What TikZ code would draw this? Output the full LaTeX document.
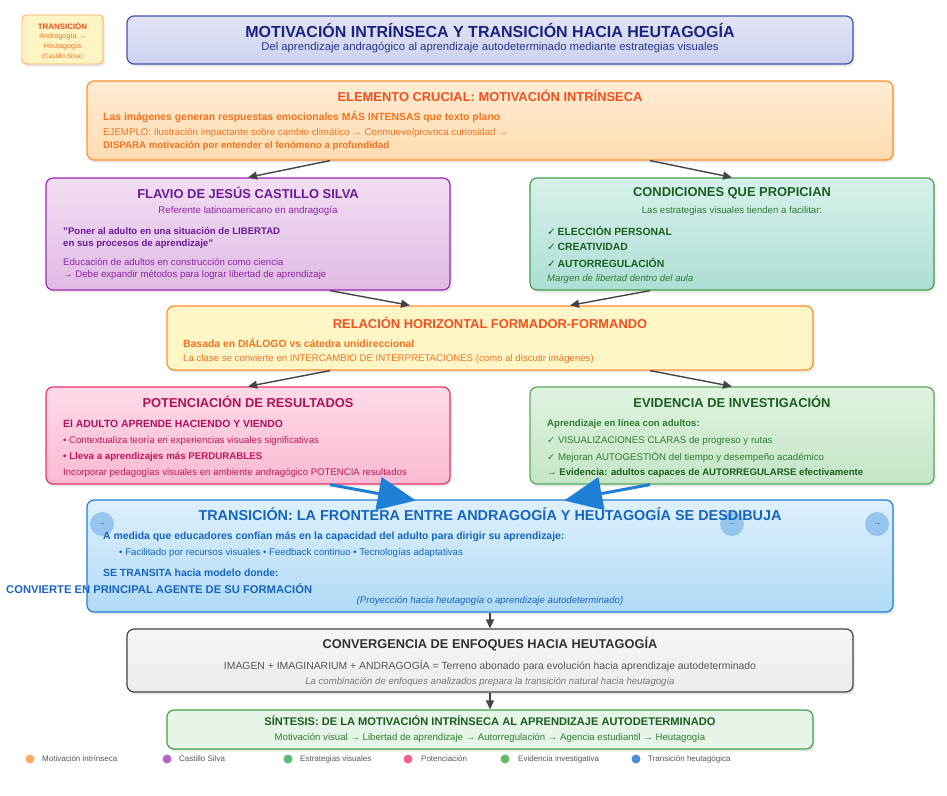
\documentclass[tikz,border=0pt]{standalone}
\usepackage{fontspec}
\setmainfont{Liberation Sans}
\newfontfamily\simbolos{DejaVu Sans}
\usetikzlibrary{arrows.meta,shadows,calc}
\usepackage{xcolor}

\definecolor{naranjaR}{HTML}{F0511E}
\definecolor{naranjaT}{HTML}{F4731F}
\definecolor{naranjaB}{HTML}{FF8F2E}
\definecolor{azulT}{HTML}{1A237E}
\definecolor{azulS}{HTML}{283593}
\definecolor{azulB}{HTML}{3F51B5}
\definecolor{moradoT}{HTML}{6A1B9A}
\definecolor{moradoS}{HTML}{8E24AA}
\definecolor{moradoB}{HTML}{9C27B0}
\definecolor{verdeT}{HTML}{1B5E20}
\definecolor{verdeS}{HTML}{2E7D32}
\definecolor{verdeB}{HTML}{43A047}
\definecolor{rosaT}{HTML}{AD1457}
\definecolor{rosaS}{HTML}{C2185B}
\definecolor{rosaB}{HTML}{EC3468}
\definecolor{celesteT}{HTML}{1565C0}
\definecolor{celesteB}{HTML}{1E7FD6}
\definecolor{grisT}{HTML}{333333}
\definecolor{grisS}{HTML}{555555}
\definecolor{grisB}{HTML}{444444}

\newcommand{\palomita}{{\simbolos ✓}}
\newcommand{\palomitab}{{\simbolos\bfseries ✓}}
\newcommand{\comillas}{{\char34}}

\begin{document}
\begin{tikzpicture}[x=1pt,y=1pt,yscale=-1,xscale=1,
  caja/.style={draw,rounded corners=7pt,line width=1.2pt,inner sep=0pt,
    drop shadow={opacity=0.18,shadow xshift=1.5pt,shadow yshift=-2.5pt}},
  txt/.style={inner sep=0pt,anchor=west},
  ctxt/.style={inner sep=0pt,anchor=center},
  conector/.style={draw=grisB,line width=1.4pt,-{Triangle[length=9pt,width=8pt]}},
  conectorazul/.style={draw=celesteB,line width=3pt,-{Triangle[length=38pt,width=33pt]}},
  circulo/.style={circle,fill={rgb,255:red,90;green,160;blue,225},fill opacity=0.5,text opacity=1,minimum size=24pt,inner sep=0pt,text=celesteT,font=\fontsize{7.5}{8}\selectfont},
  punto/.style={circle,inner sep=0pt,minimum size=9pt}]
\useasboundingbox (0,0) rectangle (947,795);

%Shape: Badge [id:insignia]
\node (insignia) [caja,draw=naranjaB!80,line width=0.8pt,rounded corners=4pt,fill={rgb,255:red,255;green,244;blue,196},minimum width=81pt,minimum height=49pt] at (62.5,39.5) {};
\node (insigniaT) [ctxt,text=naranjaR,font=\fontsize{7.9}{8}\selectfont\bfseries] at (62.5,26) {TRANSICIÓN};
\node (insignia1) [ctxt,text=naranjaT,font=\fontsize{7.2}{8}\selectfont] at (62.5,37) {Andragogía →};
\node (insignia2) [ctxt,text=naranjaT,font=\fontsize{7.2}{8}\selectfont] at (62.5,47) {Heutagogía};
\node (insignia3) [ctxt,text=naranjaT,font=\fontsize{6.4}{7}\selectfont] at (62.5,57) {(Castillo Silva)};

%Shape: Title box [id:titulo]
\node (titulo) [caja,draw=azulB,top color={rgb,255:red,226;green,228;blue,245},bottom color={rgb,255:red,205;green,210;blue,238},minimum width=726pt,minimum height=48pt] at (490,40) {};
\node (tituloT) [ctxt,text=azulT,font=\fontsize{16}{18}\selectfont\bfseries] at (490,30) {MOTIVACIÓN INTRÍNSECA Y TRANSICIÓN HACIA HEUTAGOGÍA};
\node (tituloS) [ctxt,text=azulS,font=\fontsize{11.3}{13}\selectfont] at (490,48) {Del aprendizaje andragógico al aprendizaje autodeterminado mediante estrategias visuales};

%Shape: Elemento crucial [id:elemento]
\node (elemento) [caja,draw=naranjaB,top color={rgb,255:red,255;green,236;blue,212},bottom color={rgb,255:red,255;green,220;blue,176},minimum width=806pt,minimum height=79pt] at (490,120.5) {};
\node (elementoT) [ctxt,text=naranjaR,font=\fontsize{12.9}{14}\selectfont\bfseries] at (490,96) {ELEMENTO CRUCIAL: MOTIVACIÓN INTRÍNSECA};
\node (elemento1) [txt,text=naranjaT,font=\fontsize{10.4}{12}\selectfont\bfseries] at (103,117) {Las imágenes generan respuestas emocionales MÁS INTENSAS que texto plano};
\node (elemento2) [txt,text=naranjaT,font=\fontsize{9.7}{11}\selectfont] at (103,133) {EJEMPLO: Ilustración impactante sobre cambio climático → Conmueve/provoca curiosidad →};
\node (elemento3) [txt,text=naranjaT,font=\fontsize{9.7}{11}\selectfont\bfseries] at (103,146) {DISPARA motivación por entender el fenómeno a profundidad};

%Shape: Castillo Silva [id:flavio]
\node (flavio) [caja,draw=moradoB,top color={rgb,255:red,242;green,222;blue,242},bottom color={rgb,255:red,224;green,186;blue,228},minimum width=404pt,minimum height=112pt] at (248,234) {};
\node (flavioT) [ctxt,text=moradoT,font=\fontsize{12.9}{14}\selectfont\bfseries] at (248,193) {FLAVIO DE JESÚS CASTILLO SILVA};
\node (flavioS) [ctxt,text=moradoS,font=\fontsize{9.7}{11}\selectfont] at (248,211) {Referente latinoamericano en andragogía};
\node (flavio1) [txt,text=moradoT,font=\fontsize{9.6}{11}\selectfont\bfseries] at (63,231) {\comillas Poner al adulto en una situación de LIBERTAD};
\node (flavio2) [txt,text=moradoT,font=\fontsize{9.6}{11}\selectfont\bfseries] at (63,244) {en sus procesos de aprendizaje\comillas};
\node (flavio3) [txt,text=moradoS,font=\fontsize{9.6}{11}\selectfont] at (63,262) {Educación de adultos en construcción como ciencia};
\node (flavio4) [txt,text=moradoS,font=\fontsize{9.6}{11}\selectfont] at (63,275) {→ Debe expandir métodos para lograr libertad de aprendizaje};

%Shape: Condiciones [id:condiciones]
\node (condiciones) [caja,draw=verdeB,top color={rgb,255:red,216;green,241;blue,236},bottom color={rgb,255:red,172;green,222;blue,212},minimum width=404pt,minimum height=112pt] at (732,234) {};
\node (condicionesT) [ctxt,text=verdeT,font=\fontsize{12.9}{14}\selectfont\bfseries] at (732,193) {CONDICIONES QUE PROPICIAN};
\node (condicionesS) [ctxt,text=verdeS,font=\fontsize{9.6}{11}\selectfont] at (732,211) {Las estrategias visuales tienden a facilitar:};
\node (condiciones1) [txt,text=verdeT,font=\fontsize{10.4}{12}\selectfont\bfseries] at (547,231) {\palomitab\,ELECCIÓN PERSONAL};
\node (condiciones2) [txt,text=verdeT,font=\fontsize{10.4}{12}\selectfont\bfseries] at (547,247) {\palomitab\,CREATIVIDAD};
\node (condiciones3) [txt,text=verdeT,font=\fontsize{10.4}{12}\selectfont\bfseries] at (547,263) {\palomitab\,AUTORREGULACIÓN};
\node (condiciones4) [txt,text=verdeS,font=\fontsize{9.6}{11}\selectfont\itshape] at (547,279) {Margen de libertad dentro del aula};

%Shape: Relacion horizontal [id:relacion]
\node (relacion) [caja,draw=naranjaB,fill={rgb,255:red,255;green,246;blue,200},minimum width=646pt,minimum height=64pt] at (490,338) {};
\node (relacionT) [ctxt,text=naranjaR,font=\fontsize{12.9}{14}\selectfont\bfseries] at (490,323) {RELACIÓN HORIZONTAL FORMADOR-FORMANDO};
\node (relacion1) [txt,text=naranjaT,font=\fontsize{10.4}{12}\selectfont\bfseries] at (183,343) {Basada en DIÁLOGO vs cátedra unidireccional};
\node (relacion2) [txt,text=naranjaT,font=\fontsize{9.65}{11}\selectfont] at (183,359) {La clase se convierte en INTERCAMBIO DE INTERPRETACIONES (como al discutir imágenes)};

%Shape: Potenciacion [id:potenciacion]
\node (potenciacion) [caja,draw=rosaB,top color={rgb,255:red,255;green,218;blue,232},bottom color={rgb,255:red,250;green,186;blue,210},minimum width=404pt,minimum height=97pt] at (248,435.5) {};
\node (potenciacionT) [ctxt,text=rosaT,font=\fontsize{12.9}{14}\selectfont\bfseries] at (248,402) {POTENCIACIÓN DE RESULTADOS};
\node (potenciacion1) [txt,text=rosaT,font=\fontsize{10.4}{12}\selectfont\bfseries] at (63,424) {El ADULTO APRENDE HACIENDO Y VIENDO};
\node (potenciacion2) [txt,text=rosaS,font=\fontsize{9.6}{11}\selectfont] at (63,441) {• Contextualiza teoría en experiencias visuales significativas};
\node (potenciacion3) [txt,text=rosaS,font=\fontsize{9.7}{11}\selectfont\bfseries] at (63,457) {• Lleva a aprendizajes más PERDURABLES};
\node (potenciacion4) [txt,text=rosaS,font=\fontsize{9.6}{11}\selectfont] at (63,473) {Incorporar pedagogías visuales en ambiente andragógico POTENCIA resultados};

%Shape: Evidencia [id:evidencia]
\node (evidencia) [caja,draw=verdeB!90!white,top color={rgb,255:red,224;green,243;blue,225},bottom color={rgb,255:red,196;green,229;blue,198},minimum width=404pt,minimum height=97pt] at (732,435.5) {};
\node (evidenciaT) [ctxt,text=verdeT,font=\fontsize{12.9}{14}\selectfont\bfseries] at (732,402) {EVIDENCIA DE INVESTIGACIÓN};
\node (evidencia1) [txt,text=verdeS,font=\fontsize{9.6}{11}\selectfont\bfseries] at (547,424) {Aprendizaje en línea con adultos:};
\node (evidencia2) [txt,text=verdeS,font=\fontsize{9.7}{11}\selectfont] at (547,441) {\palomita\ VISUALIZACIONES CLARAS de progreso y rutas};
\node (evidencia3) [txt,text=verdeS,font=\fontsize{9.7}{11}\selectfont] at (547,457) {\palomita\ Mejoran AUTOGESTIÓN del tiempo y desempeño académico};
\node (evidencia4) [txt,text=verdeT,font=\fontsize{9.6}{11}\selectfont\bfseries] at (547,473) {→ Evidencia: adultos capaces de AUTORREGULARSE efectivamente};

%Shape: Transicion [id:transicion]
\node (transicion) [caja,draw=celesteB,top color={rgb,255:red,222;green,240;blue,252},bottom color={rgb,255:red,176;green,218;blue,246},minimum width=806pt,minimum height=112pt] at (490,556) {};
\node (circ1) [circulo] at (102,524) {→};
\node (circ2) [circulo] at (732,524) {→};
\node (circ3) [circulo] at (877,524) {→};
\node (transicionT) [ctxt,text=celesteT,font=\fontsize{14.4}{16}\selectfont\bfseries] at (490,514) {TRANSICIÓN: LA FRONTERA ENTRE ANDRAGOGÍA Y HEUTAGOGÍA SE DESDIBUJA};
\node (transicion1) [txt,text=celesteT,font=\fontsize{10.4}{12}\selectfont\bfseries] at (103,537) {A medida que educadores confían más en la capacidad del adulto para dirigir su aprendizaje:};
\node (transicion2) [txt,text=celesteT,font=\fontsize{9.65}{11}\selectfont] at (119,553) {• Facilitado por recursos visuales • Feedback continuo • Tecnologías adaptativas};
\node (transicion3) [txt,text=celesteT,font=\fontsize{10.4}{12}\selectfont\bfseries] at (103,573) {SE TRANSITA hacia modelo donde:};
\node (transicion4) [txt,text=celesteT,font=\fontsize{11.2}{13}\selectfont\bfseries] at (6,589) {CONVIERTE EN PRINCIPAL AGENTE DE SU FORMACIÓN};
\node (transicion5) [ctxt,text=celesteT,font=\fontsize{9.65}{11}\selectfont\itshape] at (490,601) {(Proyección hacia heutagogía o aprendizaje autodeterminado)};

%Shape: Convergencia [id:convergencia]
\node (convergencia) [caja,draw=grisB,top color={rgb,255:red,246;green,246;blue,246},bottom color={rgb,255:red,236;green,236;blue,236},minimum width=726pt,minimum height=63pt] at (490,660.5) {};
\node (convergenciaT) [ctxt,text=grisT,font=\fontsize{12.8}{14}\selectfont\bfseries] at (490,644) {CONVERGENCIA DE ENFOQUES HACIA HEUTAGOGÍA};
\node (convergencia1) [ctxt,text=grisS,font=\fontsize{10.4}{12}\selectfont] at (490,666) {IMAGEN + IMAGINARIUM + ANDRAGOGÍA = Terreno abonado para evolución hacia aprendizaje autodeterminado};
\node (convergencia2) [ctxt,text=grisS!80,font=\fontsize{9.6}{11}\selectfont\itshape] at (490,682) {La combinación de enfoques analizados prepara la transición natural hacia heutagogía};

%Shape: Sintesis [id:sintesis]
\node (sintesis) [caja,draw=verdeB,fill={rgb,255:red,230;green,245;blue,231},minimum width=646pt,minimum height=39pt] at (490,729.5) {};
\node (sintesisT) [ctxt,text=verdeT,font=\fontsize{11.1}{13}\selectfont\bfseries] at (490,721) {SÍNTESIS: DE LA MOTIVACIÓN INTRÍNSECA AL APRENDIZAJE AUTODETERMINADO};
\node (sintesis1) [ctxt,text=verdeS,font=\fontsize{9.6}{11}\selectfont] at (490,738) {Motivación visual → Libertad de aprendizaje → Autorregulación → Agencia estudiantil → Heutagogía};

%Straight Lines: connectors
\draw [conector] ([xshift=-160pt]elemento.south) -- (flavio.north);
\draw [conector] ([xshift=160pt]elemento.south) -- (condiciones.north);
\draw [conector] ([xshift=82pt]flavio.south) -- ([xshift=-80pt]relacion.north);
\draw [conector] ([xshift=-82pt]condiciones.south) -- ([xshift=80pt]relacion.north);
\draw [conector] ([xshift=-160pt]relacion.south) -- (potenciacion.north);
\draw [conector] ([xshift=160pt]relacion.south) -- (evidencia.north);
\draw [conectorazul,shorten >=-6pt] ([xshift=82pt]potenciacion.south) -- ([xshift=-80pt]transicion.north);
\draw [conectorazul,shorten >=-6pt] ([xshift=-82pt]evidencia.south) -- ([xshift=80pt]transicion.north);
\draw [conector] (transicion.south) -- (convergencia.north);
\draw [conector] (convergencia.south) -- (sintesis.north);

%Legend
\node (ley1) [punto,fill={rgb,255:red,255;green,171;blue,94}] at (30,759) {};
\node (ley1T) [txt,text=grisS,font=\fontsize{8}{9}\selectfont] at (42,759) {Motivación intrínseca};
\node (ley2) [punto,fill={rgb,255:red,181;green,101;blue,200}] at (167,759) {};
\node (ley2T) [txt,text=grisS,font=\fontsize{8}{9}\selectfont] at (179,759) {Castillo Silva};
\node (ley3) [punto,fill={rgb,255:red,93;green,187;blue,118}] at (288,759) {};
\node (ley3T) [txt,text=grisS,font=\fontsize{8}{9}\selectfont] at (300,759) {Estrategias visuales};
\node (ley4) [punto,fill={rgb,255:red,240;green,98;blue,146}] at (408,759) {};
\node (ley4T) [txt,text=grisS,font=\fontsize{8}{9}\selectfont] at (421,759) {Potenciación};
\node (ley5) [punto,fill={rgb,255:red,102;green,187;blue,106}] at (505,759) {};
\node (ley5T) [txt,text=grisS,font=\fontsize{8}{9}\selectfont] at (518,759) {Evidencia investigativa};
\node (ley6) [punto,fill={rgb,255:red,74;green,144;blue,217}] at (636,759) {};
\node (ley6T) [txt,text=grisS,font=\fontsize{8}{9}\selectfont] at (648,759) {Transición heutagógica};
\end{tikzpicture}
\end{document}
